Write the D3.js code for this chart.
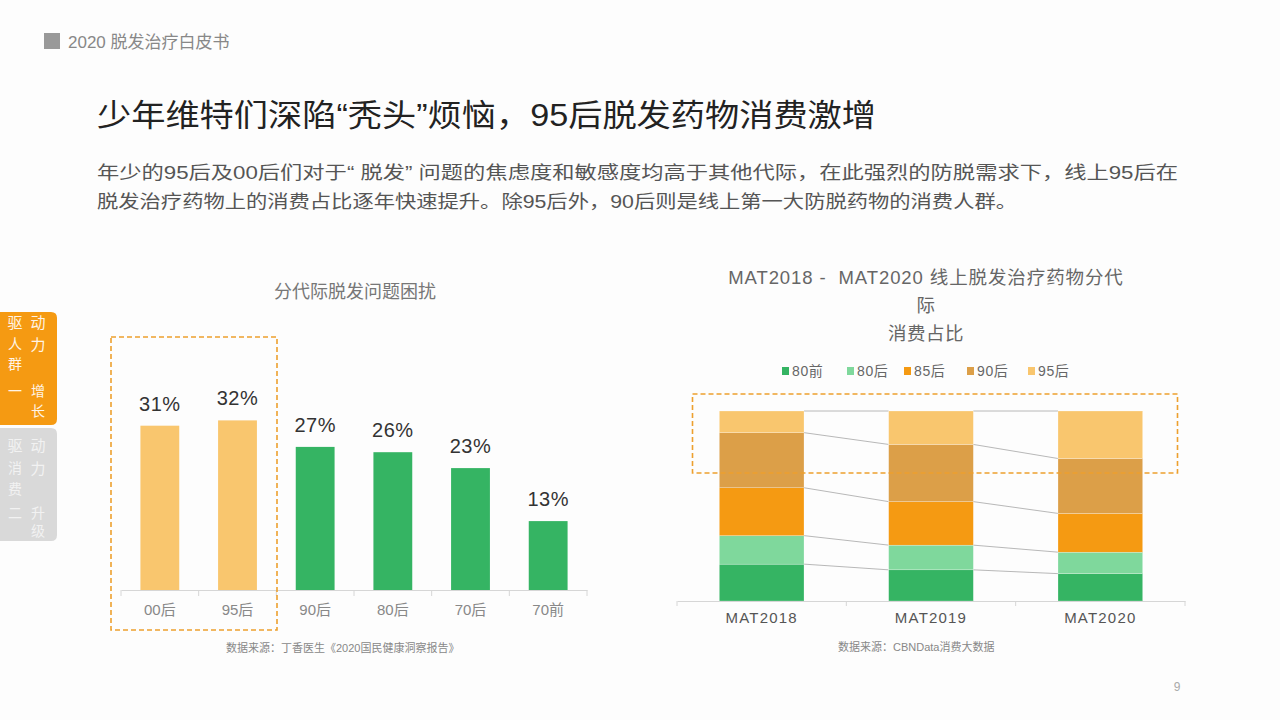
<!DOCTYPE html>
<html>
<head>
<meta charset="utf-8">
<script src="https://cdn.jsdelivr.net/npm/d3@7"></script>
<style>
  html, body { margin: 0; padding: 0; background: #fdfdfd; }
  svg { display: block; }
</style>
</head>
<body>
<script>
// left chart: share troubled by hair loss, by generation
const ageGroups = ["00后", "95后", "90后", "80后", "70后", "70前"]
const troubleShare = [31, 32, 27, 26, 23, 13]
const youngGroups = ["00后", "95后"]

// right chart: online hair-loss drug spend share, MAT2018-2020
const years = ["MAT2018", "MAT2019", "MAT2020"]
const generations = ["80前", "80后", "85后", "90后", "95后"]
const share80Before = [19.4, 16.4, 14.4]
const share80After = [15.0, 13.0, 11.3]
const share85After = [25.2, 22.9, 20.4]
const share90After = [29.0, 30.1, 28.9]
const share95After = [11.4, 17.6, 25.0]

const genColors = ["#35b463", "#7fd89c", "#f59a12", "#dc9f48", "#f9c66e"]
const FONT = "'Liberation Sans', 'Noto Sans CJK SC', sans-serif"
const CJK = "'Noto Sans CJK SC', 'Liberation Sans', sans-serif"

let svg = d3.select("body").append("svg")
    .attr("width", 1280).attr("height", 720)
    .style("font-family", FONT)
svg.append("rect").attr("width", 1280).attr("height", 720).attr("fill", "#fdfdfd")

// header
svg.append("rect").attr("x", 44).attr("y", 33).attr("width", 16).attr("height", 16).attr("fill", "#999")
svg.append("text").attr("x", 68).attr("y", 48).attr("font-size", 17).attr("fill", "#888")
    .text("2020 脱发治疗白皮书")

svg.append("text").attr("x", 97).attr("y", 126).attr("font-size", 31).attr("fill", "#222")
    .attr("textLength", 779).attr("lengthAdjust", "spacingAndGlyphs")
    .text("少年维特们深陷“秃头”烦恼，95后脱发药物消费激增")

svg.append("text").attr("x", 97).attr("y", 179).attr("font-size", 18).attr("fill", "#555")
    .attr("textLength", 1081).attr("lengthAdjust", "spacingAndGlyphs")
    .text("年少的95后及00后们对于“ 脱发” 问题的焦虑度和敏感度均高于其他代际，在此强烈的防脱需求下，线上95后在")
svg.append("text").attr("x", 97).attr("y", 208).attr("font-size", 18).attr("fill", "#555")
    .attr("textLength", 920).attr("lengthAdjust", "spacingAndGlyphs")
    .text("脱发治疗药物上的消费占比逐年快速提升。除95后外，90后则是线上第一大防脱药物的消费人群。")

// side tabs
function sideTab(y0, fill, color, chars) {
    svg.append("path")
        .attr("d", `M0,${y0} H51 Q57,${y0} 57,${y0 + 6} V${y0 + 107} Q57,${y0 + 113} 51,${y0 + 113} H0 Z`)
        .attr("fill", fill)
    for (let c of chars) {
        svg.append("text").attr("x", c[1]).attr("y", y0 + c[2])
            .attr("font-size", c[3]).attr("fill", color).attr("text-anchor", "middle")
            .attr("dominant-baseline", "central").style("font-family", CJK)
            .text(c[0])
    }
}
sideTab(312, "#f59a12", "#fff4e6", [["驱", 15, 9, 15], ["动", 38, 9, 15], ["人", 15, 31, 14], ["力", 38, 31, 15],
    ["群", 15, 51, 14], ["一", 15, 78, 14], ["增", 38, 78, 14], ["长", 38, 98, 14]])
sideTab(428, "#d9d9d9", "#f2f2f2", [["驱", 15, 16, 15], ["动", 38, 16, 15], ["消", 15, 39, 14], ["力", 38, 39, 15],
    ["费", 15, 60, 14], ["二", 15, 84, 14], ["升", 38, 84, 14], ["级", 38, 102, 14]])

// ---------- left chart ----------
let lx = d3.scaleBand().domain(ageGroups).range([121, 587]).paddingInner(0.5).paddingOuter(0.25)
let ly = d3.scaleLinear().domain([0, 35]).range([590, 404.5])
let left = svg.append("g")

left.append("text").attr("x", 355).attr("y", 298).attr("text-anchor", "middle")
    .attr("font-size", 18).attr("fill", "#777").style("font-family", CJK)
    .text("分代际脱发问题困扰")

left.selectAll("rect.bar").data(troubleShare).enter().append("rect")
    .attr("class", "bar")
    .attr("x", (d, i) => lx(ageGroups[i]))
    .attr("width", lx.bandwidth())
    .attr("y", d => ly(d))
    .attr("height", d => ly(0) - ly(d))
    .attr("fill", (d, i) => youngGroups.includes(ageGroups[i]) ? "#f9c66e" : "#35b463")

left.selectAll("text.val").data(troubleShare).enter().append("text")
    .attr("class", "val")
    .attr("x", (d, i) => lx(ageGroups[i]) + lx.bandwidth() / 2)
    .attr("y", d => ly(d) - 15)
    .attr("text-anchor", "middle").attr("font-size", 20).attr("fill", "#333")
    .style("letter-spacing", "0.5px")
    .text(d => d + "%")

let lAxis = left.append("g").attr("transform", "translate(0,590)")
    .call(d3.axisBottom(lx).tickSize(0).tickPadding(14))
lAxis.select(".domain").attr("stroke", "#d6d6d6")
lAxis.selectAll("text").attr("font-size", 15).attr("fill", "#888").style("font-family", FONT)
for (let i = 0; i <= ageGroups.length; i++) {
    lAxis.append("line").attr("x1", 121 + i * (466 / 6)).attr("x2", 121 + i * (466 / 6))
        .attr("y1", 0).attr("y2", 6).attr("stroke", "#d6d6d6")
}

left.append("rect").attr("x", 111).attr("y", 337).attr("width", 166).attr("height", 293)
    .attr("fill", "none").attr("stroke", "#eda02e").attr("stroke-width", 1.6).attr("stroke-dasharray", "5,3")

svg.append("text").attr("x", 226).attr("y", 652).attr("font-size", 11).attr("fill", "#888")
    .text("数据来源：丁香医生《2020国民健康洞察报告》")

// ---------- right chart ----------
let rows = years.map((y, i) => {
    let r = { year: y }
    let vals = [share80Before[i], share80After[i], share85After[i], share90After[i], share95After[i]]
    let tot = d3.sum(vals)
    generations.forEach((g, k) => r[g] = vals[k] / tot * 100)
    return r
})
let stacked = d3.stack().keys(generations)(rows)

let rx = d3.scaleBand().domain(years).range([677, 1185]).paddingInner(0.5).paddingOuter(0.25)
let ry = d3.scaleLinear().domain([0, 100]).range([601, 411])
let right = svg.append("g")

let titleLines = ["MAT2018 -  MAT2020 线上脱发治疗药物分代", "际", "消费占比"]
right.selectAll("text.title").data(titleLines).enter().append("text")
    .attr("class", "title")
    .attr("x", 926).attr("y", (d, i) => 284 + i * 28)
    .attr("text-anchor", "middle").attr("font-size", 18.5).attr("fill", "#666")
    .style("letter-spacing", (d, i) => i === 0 ? "0.9px" : "0.5px")
    .style("white-space", "pre")
    .text(d => d)

// legend
let legendX = [782, 847, 904, 967, 1028]
let lg = right.selectAll("g.leg").data(generations).enter().append("g")
    .attr("class", "leg").attr("transform", (d, i) => `translate(${legendX[i]},371)`)
lg.append("rect").attr("x", 0).attr("y", -4).attr("width", 7).attr("height", 8)
    .attr("fill", (d, i) => genColors[i])
lg.append("text").attr("x", 10).attr("y", 5).attr("font-size", 14).attr("fill", "#666")
    .style("letter-spacing", "0.6px")
    .text(d => d)

// connector lines between bars
let bounds = stacked.map(s => s.map(d => d[1]))
bounds.forEach(b => {
    for (let i = 0; i < years.length - 1; i++) {
        right.append("line")
            .attr("x1", rx(years[i]) + rx.bandwidth()).attr("y1", ry(b[i]))
            .attr("x2", rx(years[i + 1])).attr("y2", ry(b[i + 1]))
            .attr("stroke", "#a6a6a6").attr("stroke-width", 0.8)
    }
})

right.selectAll("g.layer").data(stacked).enter().append("g")
    .attr("class", "layer").attr("fill", (d, i) => genColors[i])
    .selectAll("rect").data(d => d).enter().append("rect")
    .attr("x", d => rx(d.data.year))
    .attr("width", rx.bandwidth())
    .attr("y", d => ry(d[1]))
    .attr("height", d => ry(d[0]) - ry(d[1]))
    .attr("stroke", "#ffffff").attr("stroke-width", 0.4).attr("stroke-opacity", 0.6)

let rAxis = right.append("g").attr("transform", "translate(0,601)")
    .call(d3.axisBottom(rx).tickSize(0).tickPadding(11))
rAxis.select(".domain").attr("stroke", "#d6d6d6")
rAxis.selectAll("text").attr("font-size", 15).attr("fill", "#555")
    .style("font-family", FONT).style("letter-spacing", "1.2px")
for (let i = 0; i <= years.length; i++) {
    rAxis.append("line").attr("x1", 677 + i * (508 / 3)).attr("x2", 677 + i * (508 / 3))
        .attr("y1", 0).attr("y2", 5).attr("stroke", "#d6d6d6")
}

right.append("rect").attr("x", 692.5).attr("y", 394).attr("width", 485).attr("height", 79)
    .attr("fill", "none").attr("stroke", "#eda02e").attr("stroke-width", 1.6).attr("stroke-dasharray", "5,3")

svg.append("text").attr("x", 838).attr("y", 651).attr("font-size", 11).attr("fill", "#888")
    .text("数据来源：CBNData消费大数据")

svg.append("text").attr("x", 1177).attr("y", 691).attr("font-size", 12).attr("fill", "#aaa")
    .attr("text-anchor", "middle").text("9")
</script>
</body>
</html>
